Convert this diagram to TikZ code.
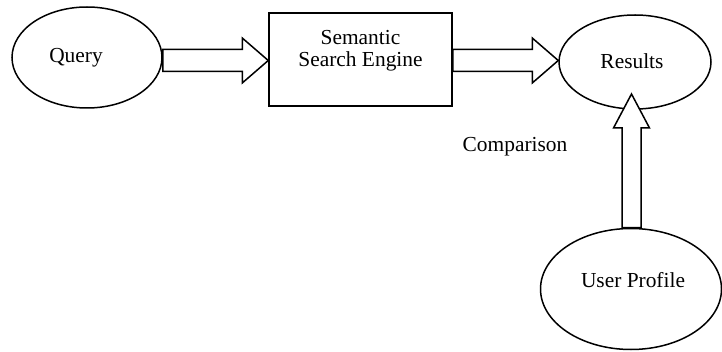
\documentclass[tikz,border=0pt]{standalone}
\usepackage{fontspec}
\setmainfont{Liberation Serif}
\usetikzlibrary{shapes.geometric,calc}
\begin{document}
\begin{tikzpicture}[x=0.5pt,y=-0.5pt,
  every node/.style={font=\fontsize{10.7pt}{11pt}\selectfont, inner sep=0pt},
  oval/.style={draw=black, line width=0.75pt, ellipse},
  enginebox/.style={draw=black, line width=0.75pt, rectangle},
  blockarrow/.style={draw=black, line width=0.75pt, fill=white, line join=miter}]
\useasboundingbox (0,0) rectangle (722,352);
\node[oval, minimum width=75pt, minimum height=50.5pt,
  label={[xshift=-5.5pt,yshift=-0.25pt]center:Query}] (q) at (87,57.5) {};
\node[enginebox, minimum width=91.5pt, minimum height=46.5pt,
  label={[anchor=north,yshift=-9pt,align=center]north:Semantic\\Search Engine}] (se) at (360.5,59.5) {};
\node[oval, minimum width=76pt, minimum height=47pt,
  label={[xshift=-1.5pt,yshift=0.5pt]center:Results}] (r) at (635,62) {};
\node[oval, minimum width=90.5pt, minimum height=60.5pt,
  label={[xshift=1pt,yshift=4.5pt]center:User Profile}] (u) at (631,289) {};
\node (cmp) at (515,147) {Comparison};
% arrow Query -> engine
\coordinate (a1s) at (q.east |- 0,60.5);
\coordinate (a1t) at (se.west |- 0,60.5);
\draw[blockarrow] ($(a1s)+(0,-11)$) -- ($(a1t)+(-26,-11)$) -- ($(a1t)+(-26,-22.5)$) -- (a1t)
  -- ($(a1t)+(-26,22.5)$) -- ($(a1t)+(-26,11)$) -- ($(a1s)+(0,11)$) -- cycle;
% arrow engine -> Results
\coordinate (a2s) at (se.east |- 0,60.5);
\coordinate (a2t) at (r.west |- 0,60.5);
\draw[blockarrow] ($(a2s)+(0,-11)$) -- ($(a2t)+(-26,-11)$) -- ($(a2t)+(-26,-22.5)$) -- (a2t)
  -- ($(a2t)+(-26,22.5)$) -- ($(a2t)+(-26,11)$) -- ($(a2s)+(0,11)$) -- cycle;
% arrow User Profile -> Results
\coordinate (a3s) at (u.north -| 631.5,0);
\coordinate (a3t) at (631.5,94);
\draw[blockarrow] ($(a3s)+(-9.5,0)$) -- ($(a3t)+(-9.5,34)$) -- ($(a3t)+(-18,34)$) -- (a3t)
  -- ($(a3t)+(18,34)$) -- ($(a3t)+(9.5,34)$) -- ($(a3s)+(9.5,0)$) -- cycle;
\end{tikzpicture}
\end{document}
